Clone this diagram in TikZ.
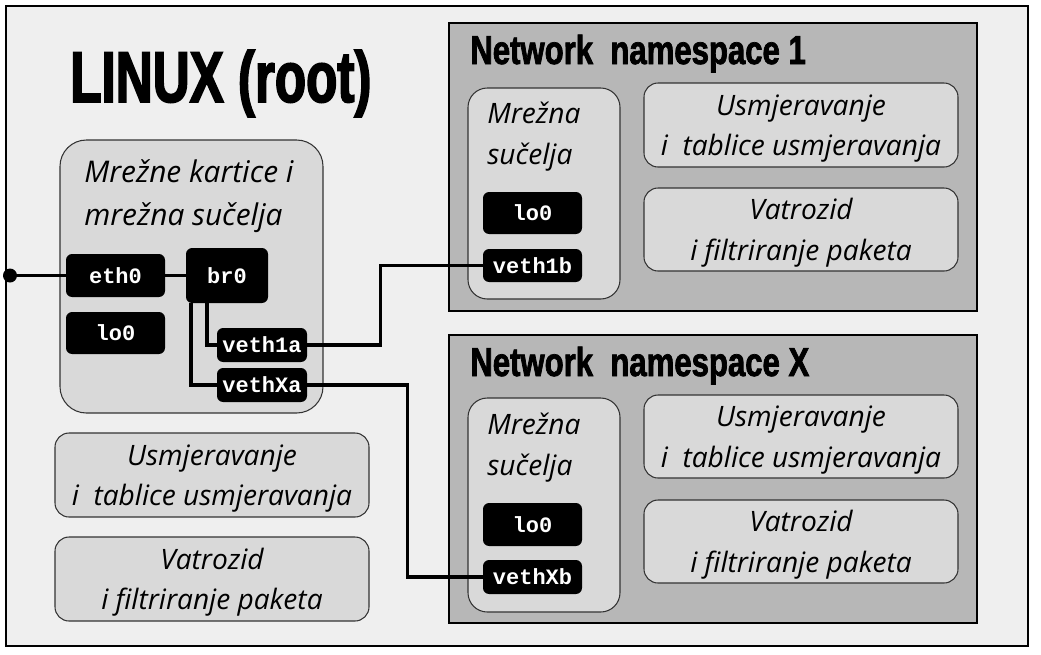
\documentclass[tikz,border=0pt]{standalone}
\usepackage{fontspec}
\usetikzlibrary{calc}
\newfontfamily\headfont[FakeStretch=0.71,FakeBold=2.2]{Liberation Sans Bold}
\newfontfamily\nsfont[FakeStretch=0.77,FakeBold=1.8]{Liberation Sans Bold}
\newfontfamily\handfont{Open Sans Italic}
\newfontfamily\codefont{Liberation Mono Bold}
\definecolor{hostgray}{HTML}{EFEFEF}
\definecolor{nsgray}{HTML}{B7B7B7}
\definecolor{boxgray}{HTML}{D9D9D9}
\tikzset{
  dims/.style args={#1x#2}{minimum width=#1*0.02cm, minimum height=#2*0.02cm},
  hostbox/.style={draw=black, line width=1.1pt, fill=hostgray, inner sep=0pt},
  nsbox/.style={draw=black, line width=0.8pt, fill=nsgray, inner sep=0pt},
  groupbox/.style={draw=black!80, line width=0.6pt, fill=boxgray, inner sep=0pt},
  textbox/.style={groupbox, rounded corners=8pt, hand, align=center, text depth=0pt},
  ifc/.style={fill=black, rounded corners=3.5pt, text=white, inner sep=0pt,
    font=\codefont\fontsize{12.5}{14}\selectfont},
  hand/.style={font=\handfont\fontsize{16}{23}\selectfont, inner sep=0pt},
  hosttitle/.style={font=\headfont\fontsize{41}{44}\selectfont, inner sep=0pt},
  nstitle/.style={font=\nsfont\fontsize{23}{26}\selectfont, inner sep=0pt},
  wire/.style={line width=1.8pt},
}
\begin{document}
\begin{tikzpicture}[x=0.02cm,y=-0.02cm]
  \fill[white] (0,0) rectangle (1041,654);
  \useasboundingbox (0,0) rectangle (1041,654);

  %% root host
  \node[hostbox, dims=1022x640] (host) at (517,326) {};
  \node[hosttitle, anchor=base west] (hostname) at (70,102) {LINUX (root)};

  \node[groupbox, rounded corners=15pt, dims=263x273] (cards) at (191.5,276.5) {};
  \node[hand, font=\handfont\fontsize{17}{24.5}\selectfont, align=left, anchor=north west] (cardslbl) at (84,159) {Mrežne kartice i\\mrežna sučelja};

  \node[ifc, dims=99x43] (eth0) at (115.5,275.5) {eth0};
  \node[ifc, dims=99x42] (lo0) at (115.5,333) {lo0};
  \node[ifc, dims=82x55] (br0) at (227,275.5) {br0};
  \node[ifc, dims=90x34] (veth1a) at (262,345) {veth1a};
  \node[ifc, dims=90x34] (vethXa) at (262,385) {vethXa};

  \node[textbox, dims=314x84] (hostroute) at (212,475) {Usmjeravanje\\i\ \ tablice usmjeravanja};
  \node[textbox, dims=314x84] (hostfw) at (212,579) {Vatrozid\\i filtriranje paketa};

  %% namespace 1
  \node[nsbox, dims=528x288] (ns1) at (713,167) {};
  \node[nstitle, anchor=base west] (ns1name) at (470,64) {Network\ \ namespace 1};
  \node[groupbox, rounded corners=11pt, dims=152x211] (ns1ifc) at (544,193.5) {};
  \node[hand, align=left, anchor=north west] (ns1ifclbl) at (487,102) {Mrežna\\sučelja};
  \node[ifc, dims=99x42] (ns1lo0) at (532.5,213) {lo0};
  \node[ifc, dims=99x33] (veth1b) at (532.5,265.5) {veth1b};
  \node[textbox, dims=314x84] (ns1route) at (801,125) {Usmjeravanje\\i\ \ tablice usmjeravanja};
  \node[textbox, dims=314x83] (ns1fw) at (801,229.5) {Vatrozid\\i filtriranje paketa};

  %% namespace X
  \node[nsbox, dims=528x288] (nsX) at (713,479) {};
  \node[nstitle, anchor=base west] (nsXname) at (470,376) {Network\ \ namespace X};
  \node[groupbox, rounded corners=11pt, dims=152x214] (nsXifc) at (544,505) {};
  \node[hand, align=left, anchor=north west] (nsXifclbl) at (487,413) {Mrežna\\sučelja};
  \node[ifc, dims=99x43] (nsXlo0) at (532.5,524.5) {lo0};
  \node[ifc, dims=99x34] (vethXb) at (532.5,577) {vethXb};
  \node[textbox, dims=314x83] (nsXroute) at (801,436.5) {Usmjeravanje\\i\ \ tablice usmjeravanja};
  \node[textbox, dims=314x83] (nsXfw) at (801,541.5) {Vatrozid\\i filtriranje paketa};

  %% links
  \coordinate (uplink) at (10,275.5);
  \fill (uplink) circle (7);
  \draw[wire] (uplink) -- (eth0);
  \draw[wire] (eth0) -- (br0);
  \draw[wire] ([xshift=-0.4cm]br0.south) |- (veth1a.west);
  \draw[wire] ([xshift=-0.72cm]br0.south) |- (vethXa.west);
  \draw[wire] (veth1a.east) -- ++(73,0) |- (veth1b.west);
  \draw[wire] (vethXa.east) -- ++(100,0) |- (vethXb.west);
\end{tikzpicture}
\end{document}
